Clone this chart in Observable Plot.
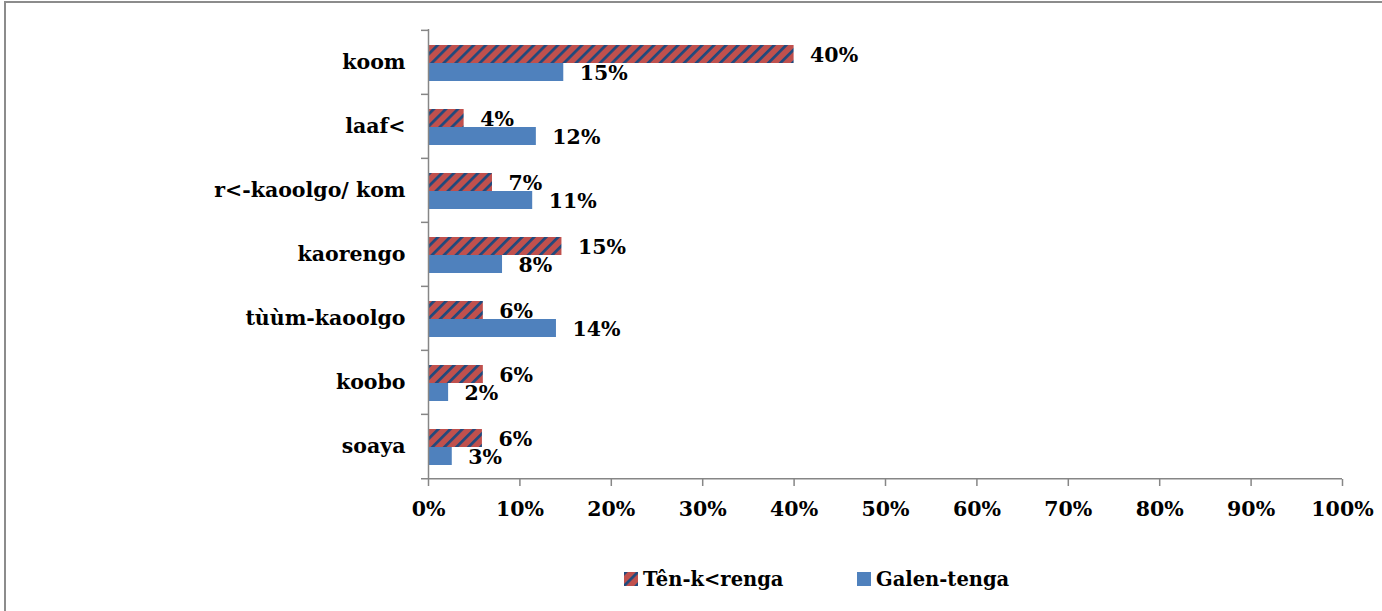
<!DOCTYPE html>
<html>
<head>
<meta charset="utf-8">
<script src="https://cdn.jsdelivr.net/npm/d3@7"></script>
<script src="https://cdn.jsdelivr.net/npm/@observablehq/plot@0.6"></script>
<style>
  html, body { margin: 0; padding: 0; background: #fff; }
  body { width: 1382px; height: 611px; position: relative; overflow: hidden; font-family: "DejaVu Serif", serif; }
  #chart { position: absolute; left: 0; top: 0; }
  #frame { position: absolute; left: 4px; top: 1px; width: 1500px; height: 700px;
           border-top: 2px solid #8c8c8c; border-left: 2px solid #8c8c8c; pointer-events: none; }
  #legend { position: absolute; left: 0; top: 566px; width: 1382px; height: 30px;
            font-family: "DejaVu Serif", serif; font-weight: bold; font-size: 19.5px; color: #000; }
  .item { position: absolute; top: 0; display: flex; align-items: center; height: 26px; }
  .sw { width: 14px; height: 14px; margin-right: 5px; display: block; }
</style>
</head>
<body>
<div id="chart"></div>
<div id="legend"></div>
<div id="frame"></div>
<script>
const categories = ["koom", "laaf<", "r<-kaoolgo/ kom", "kaorengo", "tùùm-kaoolgo", "koobo", "soaya"];
const seriesNames = ["Tên-k<renga", "Galen-tenga"];
const tenKorenga = [40, 3.9, 7, 14.6, 6, 6, 5.9];
const galenTenga = [14.8, 11.8, 11.4, 8.1, 14, 2.2, 2.6];
const tenLabels = ["40%", "4%", "7%", "15%", "6%", "6%", "6%"];
const galenLabels = ["15%", "12%", "11%", "8%", "14%", "2%", "3%"];
const xTicks = [0, 10, 20, 30, 40, 50, 60, 70, 80, 90, 100];

const tenData = categories.map((c, i) => ({cat: c, value: tenKorenga[i], label: tenLabels[i]}));
const galenData = categories.map((c, i) => ({cat: c, value: galenTenga[i], label: galenLabels[i]}));

const axisColor = "#868686";
const redColor = "#C0504D";
const navyColor = "#1F497D";
const blueColor = "#4F81BD";
const halfBand = (479 - 29) / categories.length / 2;

const plot = Plot.plot({
  width: 1382,
  height: 560,
  marginLeft: 428,
  marginRight: 40,
  marginTop: 29,
  marginBottom: 81,
  style: {fontFamily: "DejaVu Serif", fontSize: "20.5px", fontWeight: "bold", background: "transparent", color: "#000", overflow: "visible"},
  x: {domain: [0, 100], label: null},
  y: {domain: categories, padding: 0, label: null},
  marks: [
    Plot.barX(tenData, {x: "value", y: "cat", fill: "url(#stripes)", insetTop: 15, insetBottom: 31}),
    Plot.barX(galenData, {x: "value", y: "cat", fill: blueColor, insetTop: 33, insetBottom: 13}),
    Plot.ruleX([0], {stroke: axisColor, strokeWidth: 1.5}),
    Plot.ruleY(categories, {y: d => d, dy: -halfBand, x1: 0, x2: 0, insetLeft: -7, stroke: axisColor, strokeWidth: 1.5}),
    Plot.ruleY([categories[categories.length - 1]], {y: d => d, dy: halfBand, x1: 0, x2: 100, insetLeft: -7, stroke: axisColor, strokeWidth: 1.5}),
    Plot.axisX({ticks: xTicks, tickFormat: d => d + "%", tickSize: 7, tickPadding: 15, stroke: axisColor, strokeWidth: 1.5, fill: "#000"}),
    Plot.axisY({tickSize: 0, tickPadding: 23, fill: "#000"}),
    Plot.text(tenData, {x: "value", y: "cat", text: "label", textAnchor: "start", dx: 16, dy: -7, fill: "#000"}),
    Plot.text(galenData, {x: "value", y: "cat", text: "label", textAnchor: "start", dx: 16, dy: 11, fill: "#000"})
  ]
});

d3.select(plot).insert("defs", ":first-child").html(
  `<pattern id="stripes" patternUnits="userSpaceOnUse" width="8.5" height="8.5" patternTransform="rotate(45)">
     <rect width="8.5" height="8.5" fill="${redColor}"></rect>
     <rect width="2.7" height="8.5" fill="${navyColor}"></rect>
   </pattern>`
);
document.getElementById("chart").appendChild(plot);

const legend = d3.select("#legend");
const items = [
  {name: seriesNames[0], left: 624, fill: "url(#stripes)"},
  {name: seriesNames[1], left: 857, fill: blueColor}
];
items.forEach(it => {
  const div = legend.append("div").attr("class", "item").style("left", it.left + "px");
  const s = div.append("svg").attr("class", "sw").attr("width", 14).attr("height", 14);
  s.append("rect").attr("width", 14).attr("height", 14).attr("fill", it.fill);
  div.append("span").text(it.name);
});
</script>
</body>
</html>
